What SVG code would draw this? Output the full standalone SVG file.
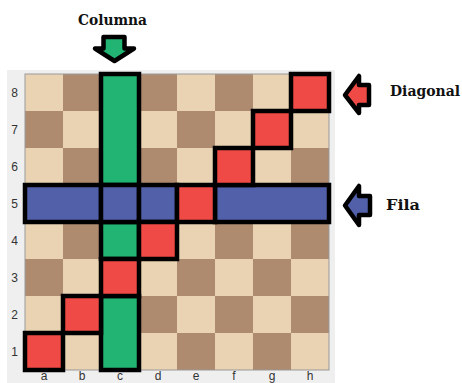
<svg xmlns="http://www.w3.org/2000/svg" width="462" height="383" viewBox="0 0 462 383">
<style>
.lbl{font-family:"DejaVu Serif","Liberation Serif",serif;font-weight:bold;fill:#111;}
.coord{font-family:"Liberation Sans","DejaVu Sans",sans-serif;font-size:12px;fill:#333;text-anchor:middle;}
.hl{stroke:#000;stroke-width:4.5;stroke-linejoin:miter;}
.g{fill:#22B473;}
.r{fill:#EF4A45;}
.b{fill:#5260AA;}
.arrow{stroke:#000;stroke-width:4.5;stroke-linejoin:round;}
</style>
<defs>
<pattern id="chk" patternUnits="userSpaceOnUse" x="25" y="74" width="76" height="74">
<rect width="76" height="74" fill="#EAD3B3"/>
<rect x="38" y="0" width="38" height="37" fill="#AE8B6F"/>
<rect x="0" y="37" width="38" height="37" fill="#AE8B6F"/>
</pattern>
</defs>
<rect width="462" height="383" fill="#FFFFFF"/>
<g id="panel">
<rect x="7" y="70" width="328" height="313" fill="#EFEFEF"/>
</g>
<g id="board">
<rect x="25" y="74" width="304" height="296" fill="url(#chk)" stroke="#999" stroke-width="1"/>
</g>
<g id="coords">
<text class="coord" x="14.5" y="97">8</text>
<text class="coord" x="14.5" y="134">7</text>
<text class="coord" x="14.5" y="171">6</text>
<text class="coord" x="14.5" y="208">5</text>
<text class="coord" x="14.5" y="245">4</text>
<text class="coord" x="14.5" y="282">3</text>
<text class="coord" x="14.5" y="319">2</text>
<text class="coord" x="14.5" y="356">1</text>
<text class="coord" x="44" y="380" font-size="11">a</text>
<text class="coord" x="82" y="380" font-size="11">b</text>
<text class="coord" x="120" y="380" font-size="11">c</text>
<text class="coord" x="158" y="380" font-size="11">d</text>
<text class="coord" x="196" y="380" font-size="11">e</text>
<text class="coord" x="234" y="380" font-size="11">f</text>
<text class="coord" x="272" y="380" font-size="11">g</text>
<text class="coord" x="310" y="380" font-size="11">h</text>
</g>
<g id="columna-cells">
<rect class="hl g" x="101" y="74" width="38" height="111"/>
<rect class="hl g" x="101" y="222" width="38" height="37"/>
<rect class="hl g" x="101" y="296" width="38" height="74"/>
</g>
<g id="fila-cells">
<rect class="hl b" x="25" y="185" width="76" height="37"/>
<rect class="hl b" x="101" y="185" width="38" height="37"/>
<rect class="hl b" x="139" y="185" width="38" height="37"/>
<rect class="hl b" x="215" y="185" width="114" height="37"/>
</g>
<g id="diagonal-cells">
<rect class="hl r" x="25" y="333" width="38" height="37"/>
<rect class="hl r" x="63" y="296" width="38" height="37"/>
<rect class="hl r" x="101" y="259" width="38" height="37"/>
<rect class="hl r" x="139" y="222" width="38" height="37"/>
<rect class="hl r" x="177" y="185" width="38" height="37"/>
<rect class="hl r" x="215" y="148" width="38" height="37"/>
<rect class="hl r" x="253" y="111" width="38" height="37"/>
<rect class="hl r" x="291" y="74" width="38" height="37"/>
</g>
<g id="connectors">
<polygon class="arrow g" points="103.5,37 124.5,37 124.5,48.5 134,48.5 114.5,61 95,48.5 103.5,48.5"/>
<polygon class="arrow r" points="345,95 359,76 359,85 369,85 369,105 359,105 359,113"/>
<polygon class="arrow b" points="345,205.5 359,186 359,196 370,196 370,215 359,215 359,225"/>
</g>
<g id="label-columna">
<text class="lbl" x="78" y="25" font-size="15" textLength="69" lengthAdjust="spacingAndGlyphs">Columna</text>
</g>
<g id="label-diagonal">
<text class="lbl" x="390" y="96" font-size="14" textLength="70" lengthAdjust="spacingAndGlyphs">Diagonal</text>
</g>
<g id="label-fila">
<text class="lbl" x="386" y="210" font-size="14" textLength="34" lengthAdjust="spacingAndGlyphs">Fila</text>
</g>
</svg>
